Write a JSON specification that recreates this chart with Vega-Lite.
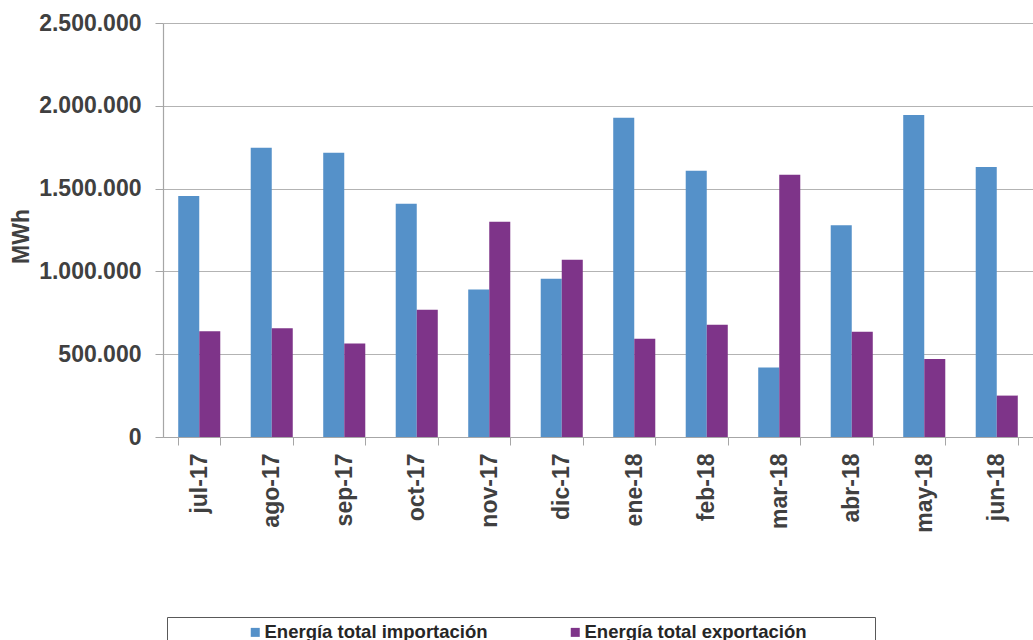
{
  "$schema": "https://vega.github.io/schema/vega-lite/v6.json",
  "width": 870,
  "height": 414,
  "autosize": {"type": "none"},
  "padding": {"left": 163, "top": 23, "right": 0, "bottom": 203},
  "background": "white",
  "config": {
    "locale": {"number": {"decimal": ",", "thousands": ".", "grouping": [3], "currency": ["", " €"]}},
    "view": {"stroke": null},
    "font": "Liberation Sans"
  },
  "data": {
    "values": [
      {"mes": "jul-17", "serie": "Energía total importación", "valor": 1455000},
      {"mes": "jul-17", "serie": "Energía total exportación", "valor": 638000},
      {"mes": "ago-17", "serie": "Energía total importación", "valor": 1746000},
      {"mes": "ago-17", "serie": "Energía total exportación", "valor": 656000},
      {"mes": "sep-17", "serie": "Energía total importación", "valor": 1717000},
      {"mes": "sep-17", "serie": "Energía total exportación", "valor": 564000},
      {"mes": "oct-17", "serie": "Energía total importación", "valor": 1409000},
      {"mes": "oct-17", "serie": "Energía total exportación", "valor": 769000},
      {"mes": "nov-17", "serie": "Energía total importación", "valor": 890000},
      {"mes": "nov-17", "serie": "Energía total exportación", "valor": 1300000},
      {"mes": "dic-17", "serie": "Energía total importación", "valor": 956000},
      {"mes": "dic-17", "serie": "Energía total exportación", "valor": 1070000},
      {"mes": "ene-18", "serie": "Energía total importación", "valor": 1928000},
      {"mes": "ene-18", "serie": "Energía total exportación", "valor": 594000},
      {"mes": "feb-18", "serie": "Energía total importación", "valor": 1608000},
      {"mes": "feb-18", "serie": "Energía total exportación", "valor": 678000},
      {"mes": "mar-18", "serie": "Energía total importación", "valor": 419000},
      {"mes": "mar-18", "serie": "Energía total exportación", "valor": 1584000},
      {"mes": "abr-18", "serie": "Energía total importación", "valor": 1278000},
      {"mes": "abr-18", "serie": "Energía total exportación", "valor": 636000},
      {"mes": "may-18", "serie": "Energía total importación", "valor": 1944000},
      {"mes": "may-18", "serie": "Energía total exportación", "valor": 471000},
      {"mes": "jun-18", "serie": "Energía total importación", "valor": 1630000},
      {"mes": "jun-18", "serie": "Energía total exportación", "valor": 250000}
    ]
  },
  "mark": {"type": "bar"},
  "encoding": {
    "x": {
      "field": "mes",
      "type": "nominal",
      "sort": null,
      "scale": {"paddingInner": 0.42, "paddingOuter": 0.21},
      "axis": {
        "title": null,
        "labelAngle": -90,
        "labelFont": "Liberation Sans",
        "labelFontWeight": "bold",
        "labelFontSize": 23,
        "labelColor": "#404040",
        "labelPadding": 8,
        "tickBand": "extent",
        "tickSize": 8,
        "tickColor": "#A6A6A6",
        "domainColor": "#A6A6A6",
        "domainWidth": 1.2,
        "grid": false
      }
    },
    "xOffset": {"field": "serie", "type": "nominal", "sort": ["Energía total importación", "Energía total exportación"], "scale": {"paddingInner": 0, "paddingOuter": 0}},
    "y": {
      "field": "valor",
      "type": "quantitative",
      "scale": {"domain": [0, 2500000], "nice": false},
      "axis": {
        "title": "MWh",
        "titleFont": "Liberation Sans",
        "titleFontWeight": "bold",
        "titleFontSize": 23,
        "titleColor": "#404040",
        "titleX": -142,
        "titleY": 213,
        "titleAngle": -90,
        "titleAlign": "center",
        "titleBaseline": "middle",
        "values": [0, 500000, 1000000, 1500000, 2000000, 2500000],
        "format": ",.0f",
        "labelFont": "Liberation Sans",
        "labelFontWeight": "bold",
        "labelFontSize": 23,
        "labelColor": "#404040",
        "labelPadding": 14,
        "tickSize": 8,
        "tickColor": "#A6A6A6",
        "domainColor": "#A6A6A6",
        "domainWidth": 1.2,
        "grid": true,
        "gridColor": "#B3B3B3",
        "gridWidth": 1.2
      }
    },
    "color": {
      "field": "serie",
      "type": "nominal",
      "sort": ["Energía total importación", "Energía total exportación"],
      "scale": {"domain": ["Energía total importación", "Energía total exportación"], "range": ["#5591C9", "#7E3489"]},
      "legend": {
        "title": null,
        "orient": "none",
        "direction": "horizontal",
        "legendX": 4,
        "legendY": 594,
        "padding": 6,
        "strokeColor": "#595959",
        "fillColor": "white",
        "symbolType": "square",
        "symbolSize": 81,
        "symbolStrokeWidth": 0,
        "symbolOffset": 73,
        "labelOffset": 0,
        "columnPadding": 5,
        "labelFont": "Liberation Sans",
        "labelFontWeight": "bold",
        "labelFontSize": 18.5,
        "labelColor": "#262626",
        "labelLimit": 600,
        "labelExpr": "datum.value == 'Energía total exportación' ? datum.label + '\u00a0\u00a0\u00a0\u00a0\u00a0\u00a0\u00a0\u00a0\u00a0\u00a0\u00a0\u00a0\u200b' : datum.label"
      }
    }
  }
}
